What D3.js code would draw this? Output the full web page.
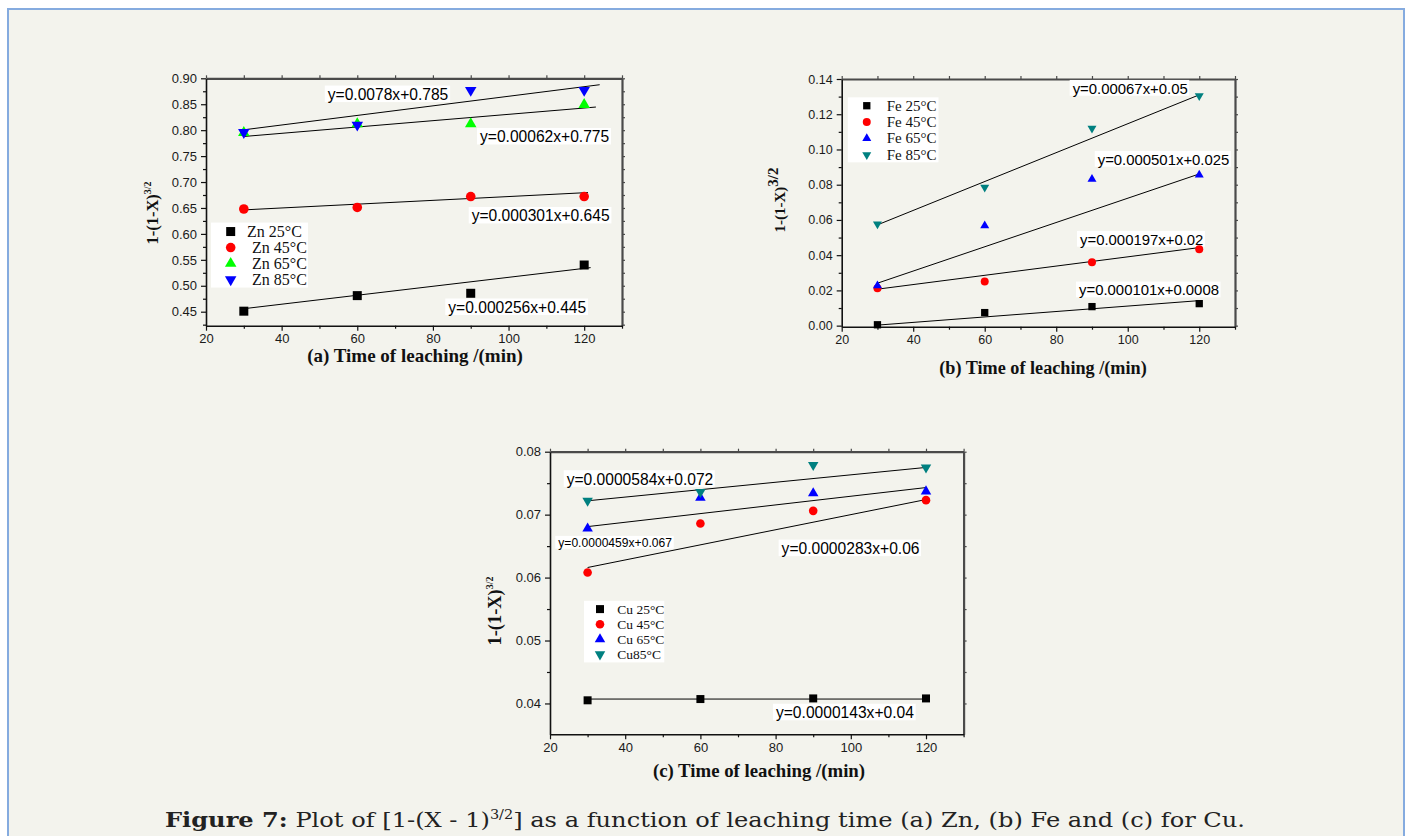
<!DOCTYPE html>
<html><head><meta charset="utf-8">
<script src="https://cdn.jsdelivr.net/npm/d3@7"></script>
<style>body{margin:0;background:#fff;overflow:hidden}</style>
</head><body><svg id="c" width="1410" height="836"></svg>
<script>
// ---------------- DATA ----------------
const times = [30, 60, 90, 120];
const xTicks = [20, 40, 60, 80, 100, 120];
const xMinorTicks = [30, 50, 70, 90, 110, 130];
const xDomain = [20, 130];

// (a) Zn
const znNames = ["Zn 25°C", "Zn 45°C", "Zn 65°C", "Zn 85°C"];
const zn25 = [0.451, 0.481, 0.4855, 0.540];
const zn45 = [0.648, 0.651, 0.672, 0.672];
const zn65 = [0.795, 0.812, 0.812, 0.849];
const zn85 = [0.796, 0.810, 0.877, 0.877];
// fitted lines [xStart, yStart, xEnd, yEnd]
const znFit25 = [30, 0.4558, 121.7, 0.535];
const znFit45 = [30, 0.6463, 121.0, 0.6797];
const znFit65 = [30, 0.7878, 123.1, 0.8446];
const znFit85 = [30, 0.8007, 124.1, 0.8876];
const znEquations = ["y=0.000256x+0.445", "y=0.000301x+0.645", "y=0.00062x+0.775", "y=0.0078x+0.785"];
const znYTicks = [0.45, 0.50, 0.55, 0.60, 0.65, 0.70, 0.75, 0.80, 0.85, 0.90];
const znYMinor = [0.425, 0.475, 0.525, 0.575, 0.625, 0.675, 0.725, 0.775, 0.825, 0.875];

// (b) Fe
const feNames = ["Fe 25°C", "Fe 45°C", "Fe 65°C", "Fe 85°C"];
const fe25 = [0.0005, 0.0074, 0.0108, 0.0125];
const fe45 = [0.0212, 0.0250, 0.0360, 0.0434];
const fe65 = [0.0227, 0.0567, 0.0831, 0.0855];
const fe85 = [0.0577, 0.0785, 0.1120, 0.1304];
const feFit25 = [30, 0.0003, 120, 0.0142];
const feFit45 = [30, 0.0207, 120, 0.0443];
const feFit65 = [30, 0.0241, 120, 0.0861];
const feFit85 = [30, 0.0572, 120, 0.1310];
const feEquations = ["y=0.000101x+0.0008", "y=0.000197x+0.02", "y=0.000501x+0.025", "y=0.00067x+0.05"];
const feYTicks = [0.00, 0.02, 0.04, 0.06, 0.08, 0.10, 0.12, 0.14];
const feYMinor = [0.01, 0.03, 0.05, 0.07, 0.09, 0.11, 0.13];

// (c) Cu
const cuNames = ["Cu 25°C", "Cu 45°C", "Cu 65°C", "Cu85°C"];
const cu25 = [0.0405, 0.0407, 0.0408, 0.0408];
const cu45 = [0.0608, 0.0686, 0.0706, 0.0723];
const cu65 = [0.0678, 0.0727, 0.0734, 0.0737];
const cu85 = [0.0722, 0.0736, 0.0779, 0.0775];
const cuFit25 = [30, 0.0407, 120, 0.0407];
const cuFit45 = [30, 0.0616, 120, 0.0724];
const cuFit65 = [30, 0.0681, 120, 0.0743];
const cuFit85 = [30, 0.0722, 120, 0.0775];
const cuEquations = ["y=0.0000143x+0.04", "y=0.0000283x+0.06", "y=0.0000459x+0.067", "y=0.0000584x+0.072"];
const cuYTicks = [0.04, 0.05, 0.06, 0.07, 0.08];
const cuYMinor = [0.045, 0.055, 0.065, 0.075];

const captionBold = "Figure 7:";
const captionText = " Plot of [1-(X - 1)";
const captionSup = "3/2";
const captionEnd = "] as a function of leaching time (a) Zn, (b) Fe and (c) for Cu.";

// ---------------- LAYOUT / STYLE ----------------
const panels = [
  {
    left: 206, right: 622, top: 78.3, bottom: 325.7, yDomain: [0.423, 0.90],
    yTicks: znYTicks, yMinor: znYMinor, tickFont: 13,
    names: znNames, series: [zn25, zn45, zn65, zn85], fits: [znFit25, znFit45, znFit65, znFit85],
    colors: ["#000000", "#ff0000", "#00ff00", "#0000ff"],
    eqs: znEquations, eqPos: [[84.07, 0.4585], [90.26, 0.6351], [92.45, 0.7874], [52.2, 0.8691]], eqFont: [15.6, 15.6, 15.6, 15.6],
    legend: { x: 21.32, y: 0.6219, w: 97, h: 65, row0: 9, step: 16, mx: 19.7, tx: [36, 41, 41, 41], font: 16 },
    mk: { sq: 9, r: 4.8, tri: 11.5 },
    xTitle: "(a) Time of leaching /(min)", xTitlePos: [415, 362], xTitleFont: 19,
    yTitlePos: [158, 213], yMain: 16.5, ySup: 10, ySupDy: -7
  },
  {
    left: 841.7, right: 1235, top: 79, bottom: 326.7, yDomain: [-0.0006, 0.14],
    yTicks: feYTicks, yMinor: feYMinor, tickFont: 12.5,
    names: feNames, series: [fe25, fe45, fe65, fe85], fits: [feFit25, feFit45, feFit65, feFit85],
    colors: ["#000000", "#ff0000", "#0000ff", "#008080"],
    eqs: feEquations, eqPos: [[86.38, 0.02026], [86.66, 0.0490], [91.6, 0.0944], [84.6, 0.1347]], eqFont: [14.9, 14.9, 14.9, 14.9],
    legend: { x: 21.7, y: 0.1296, w: 90.7, h: 65, row0: 8.4, step: 16.4, mx: 19, tx: [39, 39, 39, 39], font: 15 },
    mk: { sq: 7.3, r: 4, tri: 9 },
    xTitle: "(b) Time of leaching /(min)", xTitlePos: [1043, 374], xTitleFont: 18.2,
    yTitlePos: [785, 200], yMain: 15, ySup: 15, ySupDy: -7
  },
  {
    left: 550, right: 963.6, top: 451.7, bottom: 734.3, yDomain: [0.0351, 0.08],
    yTicks: cuYTicks, yMinor: cuYMinor, tickFont: 13,
    names: cuNames, series: [cu25, cu45, cu65, cu85], fits: [cuFit25, cuFit45, cuFit65, cuFit85],
    colors: ["#000000", "#ff0000", "#0000ff", "#008080"],
    eqs: cuEquations, eqPos: [[80.1, 0.03856], [81.6, 0.06464], [22.2, 0.06553], [24.44, 0.07566]], eqFont: [15.6, 15.6, 12.1, 15.6],
    legend: { x: 29.04, y: 0.05631, w: 80.3, h: 61.6, row0: 8.3, step: 15.1, mx: 16, tx: [33.3, 33.3, 33.3, 33.3], font: 13.5 },
    mk: { sq: 8, r: 4.3, tri: 10.5 },
    xTitle: "(c) Time of leaching /(min)", xTitlePos: [759, 777], xTitleFont: 18.8,
    yTitlePos: [501, 611], yMain: 18.4, ySup: 10, ySupDy: -8
  }
];

const SANS = "'Liberation Sans', Arial, sans-serif";
const SERIF = "'Liberation Serif', 'Times New Roman', serif";

const svg = d3.select("#c");
svg.append("rect").attr("x", 0).attr("y", 0).attr("width", 1410).attr("height", 836).attr("fill", "#ffffff");
svg.append("rect").attr("x", 8).attr("y", 9).attr("width", 1396).attr("height", 860)
  .attr("fill", "#f3f3ed").attr("stroke", "#85abdf").attr("stroke-width", 2);

function markerPath(i, p) {
  const m = p.mk;
  if (i === 0) return d3.symbol(d3.symbolSquare, m.sq * m.sq)();
  if (i === 1) return d3.symbol(d3.symbolCircle, Math.PI * m.r * m.r)();
  return d3.symbol(d3.symbolTriangle, Math.sqrt(3) / 4 * m.tri * m.tri)();
}

function drawPanel(p) {
  const x = d3.scaleLinear().domain(xDomain).range([p.left, p.right]);
  const y = d3.scaleLinear().domain(p.yDomain).range([p.bottom, p.top]);
  const g = svg.append("g");

  const style = (sel, color, w) => {
    sel.select(".domain").attr("stroke", color).attr("stroke-width", w);
    sel.selectAll(".tick line").attr("stroke", color).attr("stroke-width", 1.2);
    sel.selectAll("text").attr("font-family", SANS).attr("font-size", p.tickFont).attr("fill", "#1a1a1a");
  };
  const minor = (sel, color) => {
    sel.select(".domain").remove();
    sel.selectAll(".tick line").attr("stroke", color).attr("stroke-width", 1.2);
  };

  // top and right (thicker grey frame, small outward ticks)
  g.append("g").attr("transform", `translate(0,${p.top})`)
    .call(d3.axisTop(x).tickValues(xTicks.concat(xMinorTicks)).tickSize(3).tickSizeOuter(0).tickFormat(""))
    .call(style, "#4a4a4a", 2.2);
  g.append("g").attr("transform", `translate(${p.right},0)`)
    .call(d3.axisRight(y).tickValues(p.yTicks.concat(p.yMinor)).tickSize(3).tickSizeOuter(0).tickFormat(""))
    .call(style, "#4a4a4a", 2.2);

  // bottom
  g.append("g").attr("transform", `translate(0,${p.bottom})`)
    .call(d3.axisBottom(x).tickValues(xTicks).tickSize(5).tickSizeOuter(0).tickPadding(3).tickFormat(d3.format("d")))
    .call(style, "#111", 1.6);
  g.append("g").attr("transform", `translate(0,${p.bottom})`)
    .call(d3.axisBottom(x).tickValues(xMinorTicks).tickSize(3).tickFormat(""))
    .call(minor, "#111");
  // left
  g.append("g").attr("transform", `translate(${p.left},0)`)
    .call(d3.axisLeft(y).tickValues(p.yTicks).tickSize(5).tickSizeOuter(0).tickPadding(4).tickFormat(d3.format(".2f")))
    .call(style, "#111", 1.6);
  g.append("g").attr("transform", `translate(${p.left},0)`)
    .call(d3.axisLeft(y).tickValues(p.yMinor).tickSize(3).tickFormat(""))
    .call(minor, "#111");

  // fit lines
  g.selectAll("line.fit").data(p.fits).join("line").attr("class", "fit")
    .attr("x1", d => x(d[0])).attr("y1", d => y(d[1]))
    .attr("x2", d => x(d[2])).attr("y2", d => y(d[3]))
    .attr("stroke", "#000").attr("stroke-width", 1);

  // equation labels
  p.eqs.forEach((t, i) => {
    const lg = g.append("g");
    const tx = lg.append("text").attr("x", x(p.eqPos[i][0])).attr("y", y(p.eqPos[i][1]))
      .attr("dy", "0.36em").attr("font-family", SANS).attr("font-size", p.eqFont[i]).attr("fill", "#000").text(t);
    const bb = tx.node().getBBox();
    const h = p.eqFont[i] * 1.06;
    lg.insert("rect", "text").attr("x", bb.x - 3).attr("y", y(p.eqPos[i][1]) - h / 2 - 0.5)
      .attr("width", bb.width + 4.5).attr("height", h).attr("fill", "#ffffff");
  });

  // markers
  p.series.forEach((vals, i) => {
    g.selectAll(null).data(vals.map((v, k) => [times[k], v])).join("path")
      .attr("d", markerPath(i, p))
      .attr("transform", d => `translate(${x(d[0])},${y(d[1])})` + (i === 3 ? " rotate(180)" : ""))
      .attr("fill", p.colors[i]);
  });

  // legend
  const L = p.legend;
  const lx = x(L.x), ly = y(L.y);
  const leg = g.append("g");
  leg.append("rect").attr("x", lx).attr("y", ly).attr("width", L.w).attr("height", L.h).attr("fill", "#ffffff");
  p.names.forEach((n, i) => {
    const cy = ly + L.row0 + i * L.step;
    leg.append("path").attr("d", markerPath(i, p))
      .attr("transform", `translate(${lx + L.mx},${cy})` + (i === 3 ? " rotate(180)" : ""))
      .attr("fill", p.colors[i]);
    leg.append("text").attr("x", lx + L.tx[i]).attr("y", cy).attr("dy", "0.33em")
      .attr("font-family", SERIF).attr("font-size", L.font).attr("fill", "#111").text(n);
  });

  // axis titles
  g.append("text").attr("x", p.xTitlePos[0]).attr("y", p.xTitlePos[1]).attr("text-anchor", "middle")
    .attr("font-family", SERIF).attr("font-weight", "bold").attr("font-size", p.xTitleFont).attr("fill", "#111")
    .text(p.xTitle);
  const yt = g.append("text").attr("transform", `translate(${p.yTitlePos[0]},${p.yTitlePos[1]}) rotate(-90)`)
    .attr("text-anchor", "middle").attr("font-family", SERIF).attr("font-weight", "bold").attr("fill", "#111");
  yt.append("tspan").attr("font-size", p.yMain).text("1-(1-X)");
  yt.append("tspan").attr("font-size", p.ySup).attr("dy", p.ySupDy).text("3/2");
}

panels.forEach(drawPanel);

// caption
const cap = svg.append("text").attr("x", 165).attr("y", 827)
  .attr("font-family", "'DejaVu Serif', serif").attr("font-size", 20).attr("fill", "#222");
cap.append("tspan").attr("font-weight", "bold").text(captionBold);
cap.append("tspan").attr("xml:space", "preserve").text(captionText);
cap.append("tspan").attr("font-size", 12).attr("dy", -8).text(captionSup);
cap.append("tspan").attr("dy", 8).text(captionEnd);
cap.attr("textLength", 1080).attr("lengthAdjust", "spacingAndGlyphs");
</script>
</body></html>
